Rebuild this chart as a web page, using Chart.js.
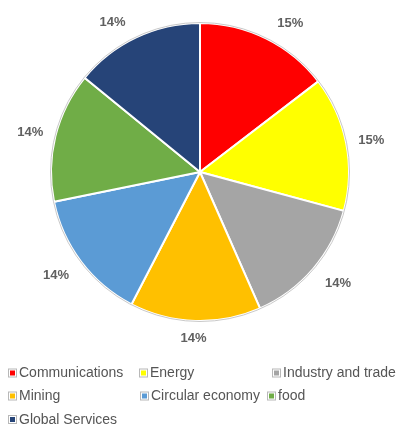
<!DOCTYPE html>
<html>
<head>
<meta charset="utf-8">
<script src="https://cdn.jsdelivr.net/npm/chart.js@4/dist/chart.umd.min.js"></script>
<style>
  html, body { margin: 0; padding: 0; background: #ffffff; }
  #wrap { width: 398px; height: 425px; }
</style>
</head>
<body>
<div id="wrap"><canvas id="pie" width="398" height="425"></canvas></div>
<script>
// Share of projects by sector
const categories = ['Communications', 'Energy', 'Industry and trade', 'Mining', 'Circular economy', 'food', 'Global Services'];
const shares = [14.6, 14.6, 14.2, 14.2, 14.2, 14.1, 14.1];
const sliceColors = ['#FF0000', '#FFFF00', '#A5A5A5', '#FFC000', '#5B9BD5', '#70AD47', '#264478'];

// Legend column offsets per row (three items per row)
const legendRows = [
  { y: 373, xs: [8, 139, 272] },
  { y: 396, xs: [8, 140, 267] },
  { y: 419.5, xs: [8] }
];

// Percentage labels placed just outside the rim of each slice
const outsideLabels = {
  id: 'outsideLabels',
  afterDatasetsDraw(chart) {
    const ctx = chart.ctx;
    const meta = chart.getDatasetMeta(0);
    const data = chart.data.datasets[0].data;
    const total = data.reduce((a, b) => a + b, 0);
    ctx.save();
    // thin grey rim around the pie
    if (meta.data.length) {
      const a0 = meta.data[0];
      ctx.beginPath();
      ctx.arc(a0.x, a0.y, a0.outerRadius + 0.5, 0, Math.PI * 2);
      ctx.strokeStyle = '#c9c9c9';
      ctx.lineWidth = 1;
      ctx.stroke();
    }
    ctx.font = 'bold 13px "Liberation Sans", Arial, sans-serif';
    ctx.fillStyle = '#606060';
    ctx.textAlign = 'center';
    ctx.textBaseline = 'middle';
    meta.data.forEach((arc, i) => {
      const text = Math.round(data[i] / total * 100) + '%';
      const mid = (arc.startAngle + arc.endAngle) / 2;
      const c = Math.cos(mid), s = Math.sin(mid);
      const w = ctx.measureText(text).width;
      const h = 9;
      const rimX = arc.x + c * arc.outerRadius;
      const rimY = arc.y + s * arc.outerRadius;
      // push the label box away from the rim, saturating once the slice leans sideways
      const dx = Math.sign(c) * (12 + w / 2) * Math.min(1, 2.2 * Math.abs(c));
      const dy = Math.sign(s) * (11.5 + h / 2) * Math.min(1, 1.3 * Math.abs(s));
      ctx.fillText(text, rimX + dx, rimY + dy + 1);
    });
    ctx.restore();
  }
};

// Legend laid out in fixed columns under the pie
const gridLegend = {
  id: 'gridLegend',
  afterDraw(chart) {
    const ctx = chart.ctx;
    const labels = chart.data.labels;
    const colors = chart.data.datasets[0].backgroundColor;
    ctx.save();
    ctx.font = '14px "Liberation Sans", Arial, sans-serif';
    ctx.textBaseline = 'middle';
    ctx.textAlign = 'left';
    let idx = 0;
    legendRows.forEach(row => {
      row.xs.forEach(x => {
        if (idx >= labels.length) return;
        const y = row.y;
        ctx.fillStyle = '#ffffff';
        ctx.fillRect(x, y - 4.5, 9, 9);
        ctx.strokeStyle = '#b8b8b8';
        ctx.lineWidth = 1;
        ctx.strokeRect(x + 0.5, y - 4, 8, 8);
        ctx.fillStyle = colors[idx];
        ctx.fillRect(x + 2, y - 2.5, 5, 5);
        ctx.fillStyle = '#555555';
        ctx.fillText(labels[idx], x + 11, y + 0.5);
        idx++;
      });
    });
    ctx.restore();
  }
};

new Chart(document.getElementById('pie'), {
  type: 'pie',
  data: {
    labels: categories,
    datasets: [{
      data: shares,
      backgroundColor: sliceColors,
      borderColor: '#ffffff',
      borderWidth: 2
    }]
  },
  options: {
    responsive: false,
    devicePixelRatio: 1,
    animation: false,
    layout: { padding: { left: 50, right: 48, top: 22, bottom: 103 } },
    plugins: {
      legend: { display: false },
      tooltip: { enabled: false }
    }
  },
  plugins: [outsideLabels, gridLegend]
});
</script>
</body>
</html>
